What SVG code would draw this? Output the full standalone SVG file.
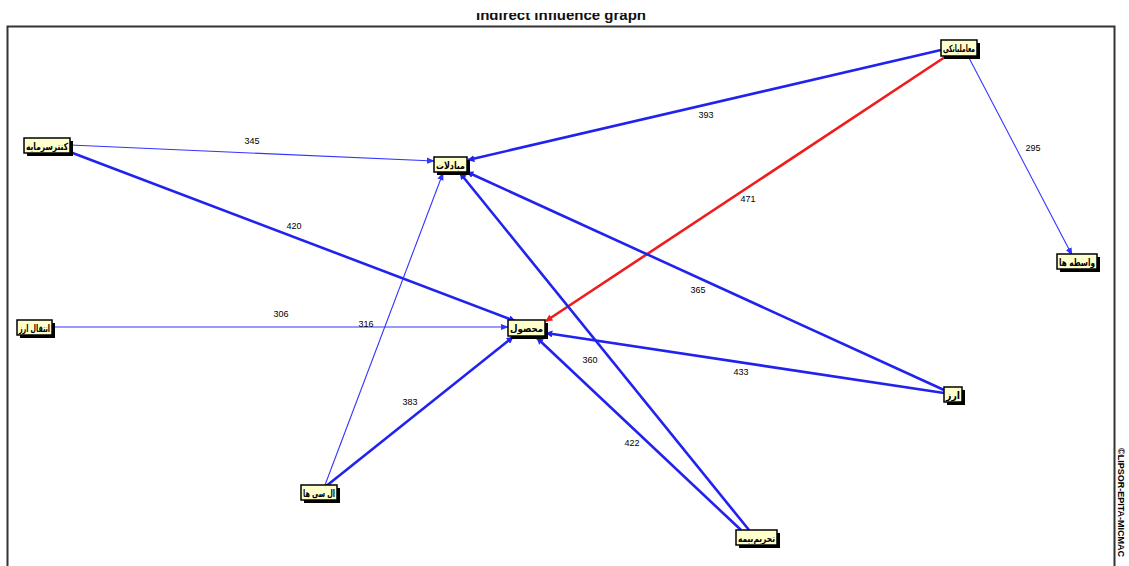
<svg xmlns="http://www.w3.org/2000/svg" width="1129" height="566" viewBox="0 0 1129 566">
<defs>
<style>
.title{font-family:"Liberation Sans",Arial,sans-serif;font-weight:bold;font-size:15px;fill:#111}
.lbl{font-family:"Liberation Sans",Arial,sans-serif;font-size:9px;fill:#000}
.nt{font-family:"DejaVu Sans","Noto Sans",sans-serif;font-weight:bold;font-size:10px;fill:#000}
.box{fill:#ffffcc;stroke:#000;stroke-width:1.5}
.sh{fill:#000}
.thick{stroke:#2222ee;stroke-width:2.6;fill:none}
.thin{stroke:#3333ff;stroke-width:1.1;fill:none}
.red{stroke:#ee1c1c;stroke-width:2.6;fill:none}
</style>
<marker id="ab" viewBox="0 0 10 10" refX="9" refY="5" markerWidth="7" markerHeight="7" markerUnits="userSpaceOnUse" orient="auto"><path d="M0,0 L10,5 L0,10 z" fill="#2222ee"/></marker>
<marker id="abt" viewBox="0 0 10 10" refX="9" refY="5" markerWidth="8" markerHeight="8" markerUnits="userSpaceOnUse" orient="auto"><path d="M0,1 L10,5 L0,9 z" fill="#3333ff"/></marker>
<marker id="ar" viewBox="0 0 10 10" refX="9" refY="5" markerWidth="7" markerHeight="7" markerUnits="userSpaceOnUse" orient="auto"><path d="M0,0 L10,5 L0,10 z" fill="#ee1c1c"/></marker>
<clipPath id="tc"><rect x="0" y="13" width="1129" height="13"/></clipPath>
</defs>
<rect x="0" y="0" width="1129" height="566" fill="#fff"/>
<text class="title" x="561" y="20" text-anchor="middle" clip-path="url(#tc)">Indirect influence graph</text>
<rect x="7.5" y="26.5" width="1107" height="560" fill="none" stroke="#333" stroke-width="2"/>
<text class="lbl" font-weight="bold" font-size="8" transform="translate(1118,448) rotate(90)">©LIPSOR-EPITA-MICMAC</text>

<g id="connectors">
<line class="thick" x1="941" y1="50" x2="468" y2="160" marker-end="url(#ab)"/>
<line class="red" x1="948" y1="55" x2="546" y2="321" marker-end="url(#ar)"/>
<line class="thin" x1="968" y1="56" x2="1072" y2="255" marker-end="url(#abt)"/>
<line class="thin" x1="70" y1="145" x2="434" y2="161" marker-end="url(#abt)"/>
<line class="thick" x1="70" y1="152" x2="515" y2="321" marker-end="url(#ab)"/>
<line class="thin" x1="52" y1="327" x2="508" y2="327" marker-end="url(#abt)"/>
<line class="thin" x1="325" y1="485" x2="443" y2="173" marker-end="url(#abt)"/>
<line class="thick" x1="325" y1="487" x2="513" y2="337" marker-end="url(#ab)"/>
<line class="thick" x1="944" y1="390" x2="467" y2="172" marker-end="url(#ab)"/>
<line class="thick" x1="944" y1="393" x2="546" y2="333" marker-end="url(#ab)"/>
<line class="thick" x1="749" y1="530" x2="460" y2="173" marker-end="url(#ab)"/>
<line class="thick" x1="741" y1="530" x2="537" y2="338" marker-end="url(#ab)"/>
<text class="lbl" x="706" y="118" text-anchor="middle">393</text>
<text class="lbl" x="748" y="202" text-anchor="middle">471</text>
<text class="lbl" x="1033" y="151" text-anchor="middle">295</text>
<text class="lbl" x="252" y="144" text-anchor="middle">345</text>
<text class="lbl" x="294" y="229" text-anchor="middle">420</text>
<text class="lbl" x="281" y="317" text-anchor="middle">306</text>
<text class="lbl" x="366" y="327" text-anchor="middle">316</text>
<text class="lbl" x="410" y="405" text-anchor="middle">383</text>
<text class="lbl" x="698" y="293" text-anchor="middle">365</text>
<text class="lbl" x="741" y="375" text-anchor="middle">433</text>
<text class="lbl" x="590" y="363" text-anchor="middle">360</text>
<text class="lbl" x="632" y="446" text-anchor="middle">422</text>
</g>

<g id="n-banki"><rect class="sh" x="944" y="43" width="36" height="16"/><rect class="box" x="941" y="40" width="36" height="16"/><text class="nt" x="943" y="52" textLength="32" lengthAdjust="spacingAndGlyphs">معاملبانکی</text></g>
<g id="n-sarmaye"><rect class="sh" x="27" y="141" width="46" height="15"/><rect class="box" x="24" y="138" width="46" height="15"/><text class="nt" x="26" y="149.5" textLength="42" lengthAdjust="spacingAndGlyphs">کنترسرمایه</text></g>
<g id="n-mobadelat"><rect class="sh" x="437" y="160" width="33" height="15"/><rect class="box" x="434" y="157" width="33" height="15"/><text class="nt" x="436" y="168.5" textLength="29" lengthAdjust="spacingAndGlyphs">مبادلات</text></g>
<g id="n-vaseteh"><rect class="sh" x="1060" y="257" width="40" height="15"/><rect class="box" x="1057" y="254" width="40" height="15"/><text class="nt" x="1059" y="265.5" textLength="36" lengthAdjust="spacingAndGlyphs">واسطه ها</text></g>
<g id="n-enteghal"><rect class="sh" x="20" y="323" width="35" height="15"/><rect class="box" x="17" y="320" width="35" height="15"/><text class="nt" x="19" y="331.5" textLength="31" lengthAdjust="spacingAndGlyphs">انتقال ارز</text></g>
<g id="n-mahsool"><rect class="sh" x="511" y="323" width="37" height="16"/><rect class="box" x="508" y="320" width="37" height="16"/><text class="nt" x="510" y="332" textLength="33" lengthAdjust="spacingAndGlyphs">محصول</text></g>
<g id="n-arz"><rect class="sh" x="947" y="390" width="18" height="15"/><rect class="box" x="944" y="387" width="18" height="15"/><text class="nt" x="946" y="398.5" textLength="14" lengthAdjust="spacingAndGlyphs">ارز</text></g>
<g id="n-lc"><rect class="sh" x="304" y="488" width="36" height="15"/><rect class="box" x="301" y="485" width="36" height="15"/><text class="nt" x="303" y="496.5" textLength="32" lengthAdjust="spacingAndGlyphs">ال سی ها</text></g>
<g id="n-tahrim"><rect class="sh" x="739" y="533" width="41" height="15"/><rect class="box" x="736" y="530" width="41" height="15"/><text class="nt" x="738" y="541.5" textLength="37" lengthAdjust="spacingAndGlyphs">تحریم‌بیمه</text></g>
</svg>
